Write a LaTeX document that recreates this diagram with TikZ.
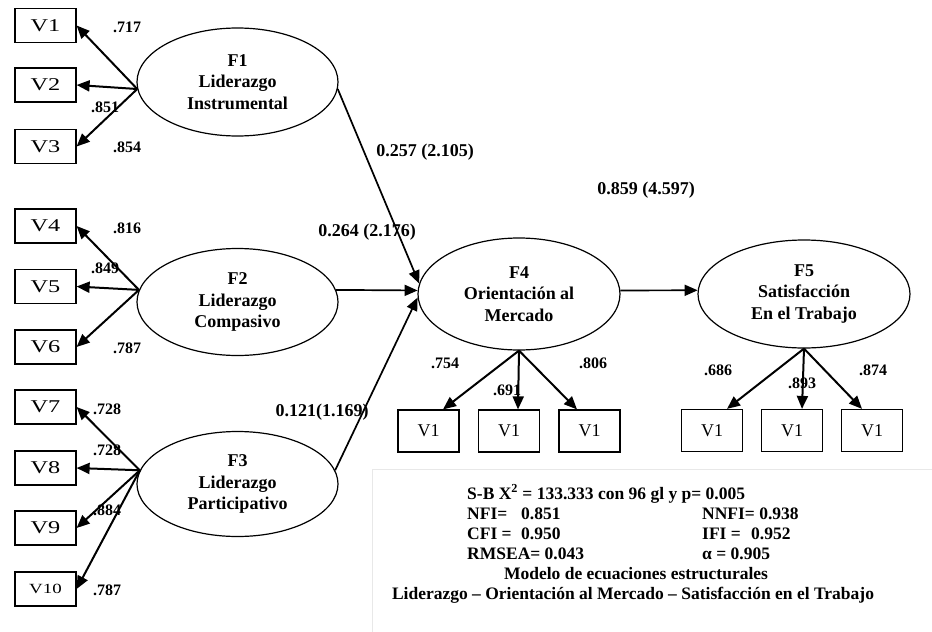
\documentclass[tikz,border=0pt]{standalone}
\usepackage{fontspec}
\setmainfont{Liberation Serif}
\usepackage{graphicx}
\usetikzlibrary{shapes.geometric,arrows.meta}
\begin{document}
\begin{tikzpicture}[x=1pt,y=-1pt,
  lat/.style={ellipse,draw,line width=1.2pt,inner sep=0pt,align=center,font=\fontsize{18}{21.5}\selectfont\bfseries},
  obs/.style={draw,line width=1.2pt,minimum width=61pt,minimum height=34pt,inner sep=0pt,font=\fontsize{18}{20}\selectfont},
  obsb/.style={obs,minimum height=42pt},
  ld/.style={line width=2pt,-{Triangle[length=13pt,width=11pt]}},
  pth/.style={line width=1.7pt,-{Triangle[length=13pt,width=11pt]}},
  lbl/.style={font=\fontsize{16}{18}\selectfont\bfseries,inner sep=0pt,anchor=base},
  big/.style={font=\fontsize{18}{20}\selectfont\bfseries,inner sep=0pt,anchor=base},
  stt/.style={font=\fontsize{17.5}{20}\selectfont\bfseries,inner sep=0pt,anchor=base west},
  sttc/.style={stt,anchor=base},
]
\useasboundingbox (0,0) rectangle (932,632);
% faint frame of the statistics box
\draw[draw=black!9,line width=0.8pt] (372,640) -- (372,469) -- (940,469);

% latent variables
\node[lat,minimum width=201pt,minimum height=108pt] (F1) at (237.5,82) {F1\\Liderazgo\\Instrumental};
\node[lat,minimum width=201pt,minimum height=107pt] (F2) at (237.5,302) {F2\\Liderazgo\\Compasivo};
\node[lat,minimum width=201pt,minimum height=105pt] (F3) at (237.5,484) {F3\\Liderazgo\\Participativo};
\node[lat,minimum width=202pt,minimum height=112pt] (F4) at (519,294) {F4\\Orientación al\\Mercado};
\node[lat,minimum width=212pt,minimum height=108pt] (F5) at (804,294) {F5\\Satisfacción\\En el Trabajo};

% observed variables, left column
\node[obs] (V1) at (45.5,25.5) {\scalebox{1.35}[1]{V1}};
\node[obs] (V2) at (45.5,85) {\scalebox{1.35}[1]{V2}};
\node[obs] (V3) at (45.5,146.5) {\scalebox{1.35}[1]{V3}};
\node[obs] (V4) at (45.5,226) {\scalebox{1.35}[1]{V4}};
\node[obs] (V5) at (45.5,286.5) {\scalebox{1.35}[1]{V5}};
\node[obs] (V6) at (45.5,347) {\scalebox{1.35}[1]{V6}};
\node[obs] (V7) at (45.5,407) {\scalebox{1.35}[1]{V7}};
\node[obs] (V8) at (45.5,468) {\scalebox{1.35}[1]{V8}};
\node[obs] (V9) at (45.5,528) {\scalebox{1.35}[1]{V9}};
\node[obs] (V10) at (45.5,589) {\scalebox{1.35}[1]{\fontsize{14}{16}\selectfont V10}};

% observed variables, bottom
\node[obsb] (W1) at (428.5,431) {V1};
\node[obsb] (W2) at (509,431) {V1};
\node[obsb] (W3) at (589.5,431) {V1};
\node[obsb] (U1) at (712,430.5) {V1};
\node[obsb] (U2) at (792,430.5) {V1};
\node[obsb] (U3) at (872,430.5) {V1};

% loadings
\draw[ld] (F1.184) -- (V1.east);
\draw[ld] (F1.184) -- (V2.east);
\draw[ld] (F1.184) -- (V3.east);
\draw[ld] (F2.173) -- (V4.east);
\draw[ld] (F2.173) -- (V5.east);
\draw[ld] (F2.173) -- (V6.east);
\draw[ld] (F3.172) -- (V7.east);
\draw[ld] (F3.172) -- (V8.east);
\draw[ld] (F3.172) -- (V9.east);
\draw[ld] (F3.172) -- (V10.east);
\draw[ld] (F4.south) -- ([xshift=14.5pt]W1.north);
\draw[ld] (F4.south) -- ([xshift=9pt]W2.north);
\draw[ld] (F4.south) -- ([xshift=-12.5pt]W3.north);
\draw[ld] (F5.south) -- ([xshift=15pt]U1.north);
\draw[ld] (F5.south) -- ([xshift=10pt]U2.north);
\draw[ld] (F5.south) -- ([xshift=-10pt]U3.north);

% structural paths
\draw[pth] (F1.356) -- (F4.174);
\draw[pth] (F2.7) -- (F4.178);
\draw[pth] (F3.8) -- (F4.182);
\draw[pth] (F4.2) -- (F5.178);

% loading labels
\node[lbl] (l1) at (127,32.5) {.717};
\node[lbl] (l2) at (105,112.5) {.851};
\node[lbl] (l3) at (127,152.5) {.854};
\node[lbl] (l4) at (127,233.5) {.816};
\node[lbl] (l5) at (105,273.5) {.849};
\node[lbl] (l6) at (127,353.5) {.787};
\node[lbl] (l7) at (107,414.5) {.728};
\node[lbl] (l8) at (107,455.5) {.728};
\node[lbl] (l9) at (107,515.5) {.884};
\node[lbl] (l10) at (107,595.5) {.787};
\node[lbl] (l11) at (445,368.5) {.754};
\node[lbl] (l12) at (507,395.5) {.691};
\node[lbl] (l13) at (593,368.5) {.806};
\node[lbl] (l14) at (718,375.5) {.686};
\node[lbl] (l15) at (802,388.5) {.893};
\node[lbl] (l16) at (873,375.5) {.874};

% path labels
\node[big] (p1) at (425,156) {0.257 (2.105)};
\node[big] (p2) at (367,236) {0.264 (2.176)};
\node[big] (p3) at (322,416) {0.121(1.169)};
\node[big] (p4) at (646,194) {0.859 (4.597)};

% statistics
\node[stt] (s1) at (467,499) {S-B X\textsuperscript{2} = 133.333 con 96 gl y p= 0.005};
\node[stt] (s2) at (467,519) {NFI=};
\node[stt] (s2v) at (521,519) {0.851};
\node[stt] (s3) at (702,519) {NNFI= 0.938};
\node[stt] (s4) at (467,539) {CFI =};
\node[stt] (s4v) at (521,539) {0.950};
\node[stt] (s5) at (702,539) {IFI =};
\node[stt] (s5v) at (751,539) {0.952};
\node[stt] (s6) at (467,559) {RMSEA= 0.043};
\node[stt] (s7) at (702,559) {α = 0.905};
\node[sttc] (s8) at (636,579) {Modelo de ecuaciones estructurales};
\node[sttc] (s9) at (633,599) {Liderazgo – Orientación al Mercado – Satisfacción en el Trabajo};
\end{tikzpicture}
\end{document}
